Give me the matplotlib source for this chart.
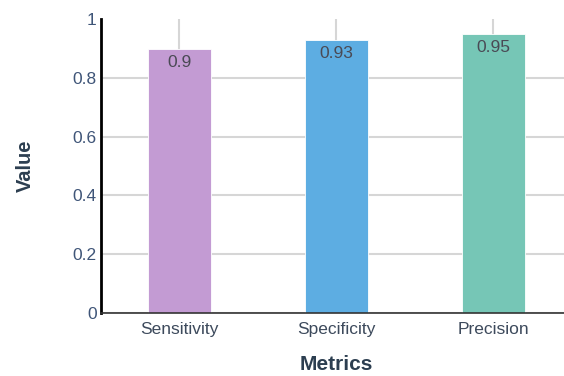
import matplotlib.pyplot as plt

# data
metrics = ["Sensitivity", "Specificity", "Precision"]
values = [0.9, 0.93, 0.95]
colors = ["#c39bd3", "#5dade2", "#76c6b6"]

plt.rcParams["font.family"] = ["Liberation Sans", "DejaVu Sans"]

fig = plt.figure(figsize=(5.64, 3.76), dpi=100)
ax = fig.add_axes([0.179, 0.168, 0.835, 0.781])

ax.set_axisbelow(True)
ax.grid(axis="both", color="#d6d6d6", linewidth=1.5)

bars = ax.bar(
    metrics,
    values,
    width=0.4,
    color=colors,
    edgecolor="#ffffff",
    linewidth=0.6
)

for bar, v in zip(bars, values):
    ax.text(
        bar.get_x() + bar.get_width() / 2,
        v - 0.022,
        str(v),
        ha="center",
        va="top",
        fontsize=12.5,
        color="#4a4a55"
    )

ax.set_xlim(-0.5, 2.5)
ax.set_ylim(0, 1)
ax.set_yticks([0, 0.2, 0.4, 0.6, 0.8, 1])
ax.set_yticklabels(["0", "0.2", "0.4", "0.6", "0.8", "1"])
# no gridline drawn at the top value
ax.yaxis.get_gridlines()[-1].set_visible(False)

ax.tick_params(axis="both", length=0)
ax.tick_params(axis="y", pad=3, labelsize=12.5, labelcolor="#3f5578")
ax.tick_params(axis="x", pad=6.5, labelsize=12.5, labelcolor="#3d4a5c")

for side in ["top", "right"]:
    ax.spines[side].set_visible(False)
ax.spines["left"].set_color("#000000")
ax.spines["left"].set_linewidth(2)
ax.spines["bottom"].set_color("#333333")
ax.spines["bottom"].set_linewidth(1.2)

ax.set_xlabel("Metrics", fontsize=15, fontweight="bold", color="#2c3e50", labelpad=13)
ax.set_ylabel("Value", fontsize=14.5, fontweight="bold", color="#2c3e50", labelpad=27)

plt.savefig("out.png", dpi=100)
